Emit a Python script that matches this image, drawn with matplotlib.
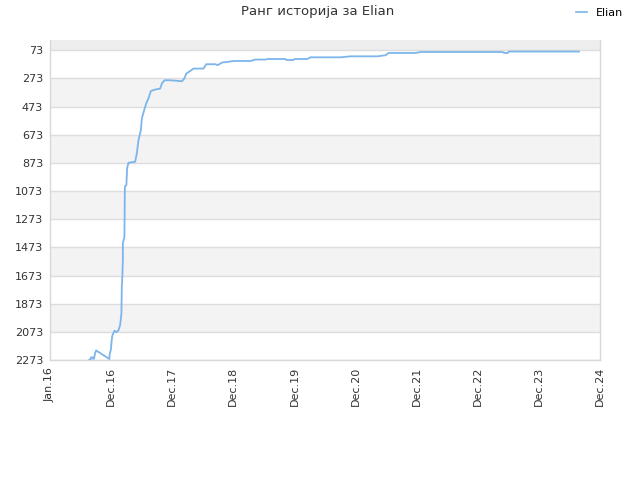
import matplotlib
matplotlib.use("Agg")
import matplotlib.pyplot as plt
from matplotlib.lines import Line2D

title = "Ранг историја за Elian"
series_name = "Elian"
x_tick_labels = ["Jan.16", "Dec.16", "Dec.17", "Dec.18", "Dec.19", "Dec.20",
                 "Dec.21", "Dec.22", "Dec.23", "Dec.24"]
y_ticks = [73, 273, 473, 673, 873, 1073, 1273, 1473, 1673, 1873, 2073, 2273]

# x in axis units (0 = Jan.16, 1 = Dec.16, ... 9 = Dec.24)
pos = [0.644, 0.665, 0.668, 0.700, 0.705, 0.721, 0.735, 0.754, 0.972, 0.975,
       0.995, 1.011, 1.020, 1.054, 1.085, 1.120, 1.148, 1.169, 1.175, 1.185,
       1.192, 1.192, 1.218, 1.225, 1.250, 1.262, 1.284, 1.393, 1.421, 1.448,
       1.487, 1.503, 1.541, 1.574, 1.611, 1.651, 1.721, 1.803, 1.831, 1.874,
       1.967, 2.159, 2.197, 2.230, 2.295, 2.349, 2.513, 2.557, 2.705, 2.743,
       2.815, 2.897, 3.005, 3.279, 3.361, 3.525, 3.557, 3.852, 3.870, 3.984,
       4.000, 4.213, 4.262, 4.754, 4.918, 5.361, 5.492, 5.541, 5.984, 6.066,
       7.410, 7.430, 7.492, 7.510, 8.656]
rank = [2271, 2271, 2255, 2255, 2264, 2264, 2230, 2205, 2266, 2235,
        2200, 2129, 2100, 2065, 2075, 2063, 2023, 1940, 1751, 1668,
        1560, 1444, 1397, 1042, 1030, 912, 872, 865, 805, 711,
        640, 557, 498, 451, 415, 362, 352, 345, 309, 286,
        286, 293, 274, 238, 220, 203, 203, 172, 172, 179,
        160, 156, 149, 149, 139, 139, 135, 135, 142, 142,
        135, 135, 123, 123, 116, 116, 108, 92, 92, 85,
        85, 92, 92, 82, 82]

fig = plt.figure(figsize=(6.4, 4.8), dpi=100)
ax = fig.add_axes([50/640, 120/480, 550/640, 320/480])

ymin_top = 0
ymax_bot = 2273
ax.set_xlim(0, 9)
ax.set_ylim(ymax_bot, ymin_top)

# background bands
ax.axhspan(ymin_top, y_ticks[0], color="#eeeeee", zorder=0, lw=0)
for i in range(1, len(y_ticks) - 1, 2):
    ax.axhspan(y_ticks[i], y_ticks[i + 1], color="#f3f3f3", zorder=0, lw=0)
for t in y_ticks:
    ax.axhline(t, color="#dddddd", lw=1, zorder=1)

ax.plot(pos, rank, color="#7cb5ec", lw=1.3, zorder=3)

ax.set_yticks(y_ticks)
ax.set_yticklabels([str(t) for t in y_ticks])
ax.set_xticks(range(len(x_tick_labels)))
ax.set_xticklabels(x_tick_labels, rotation=90)
ax.tick_params(axis="both", length=0, labelsize=8, colors="#333333", pad=5)

ax.spines["top"].set_visible(False)
for side in ["left", "bottom", "right"]:
    ax.spines[side].set_color("#d8d8d8")
    ax.spines[side].set_linewidth(1)

fig.text(318/640, 1 - 12/480, title, ha="center", va="center",
         fontsize=9.5, color="#333333")

handle = Line2D([0], [0], color="#7cb5ec", lw=1.2)
fig.legend([handle], [series_name], loc="center right",
           bbox_to_anchor=(623/640, 1 - 13/480), frameon=False,
           fontsize=8, handlelength=1.0, handletextpad=0.8,
           borderaxespad=0, borderpad=0)

fig.savefig("out.png", dpi=100)
